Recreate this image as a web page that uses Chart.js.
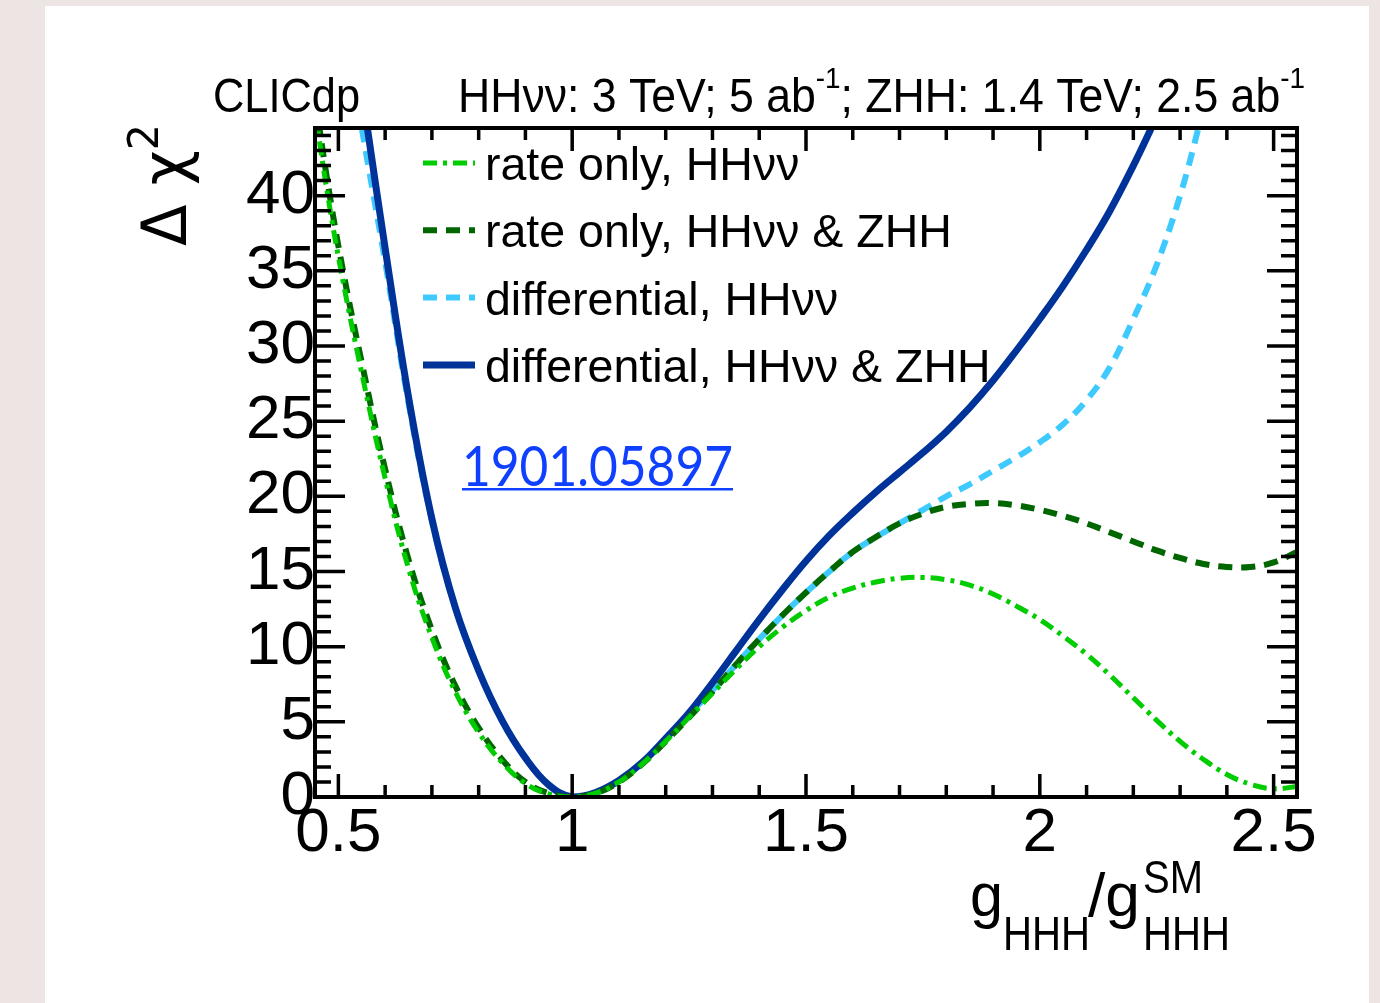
<!DOCTYPE html>
<html>
<head>
<meta charset="utf-8">
<script src="https://cdn.jsdelivr.net/npm/chart.js@4/dist/chart.umd.min.js"></script>
<style>
    html, body { margin: 0; padding: 0; }
    body { width: 1380px; height: 1003px; background: #ece5e3; position: relative; overflow: hidden; }
    #card { position: absolute; left: 45px; top: 6px; width: 1324px; height: 1010px; background: #fff; }
    #wrap { position: absolute; left: 0; top: 0; width: 1380px; height: 1003px; }
</style>
</head>
<body>
<div id="card"></div>
<div id="wrap"><canvas id="chi2Chart" width="1380" height="1003"></canvas></div>
<script>
// coupling values g_HHH / g_HHH^SM
const xRate = [0.45, 0.48, 0.51, 0.55, 0.60, 0.65, 0.70, 0.75, 0.80, 0.85, 0.90, 0.95, 1.00,
    1.05, 1.10, 1.15, 1.20, 1.25, 1.30, 1.35, 1.40, 1.45, 1.50, 1.55, 1.60, 1.65, 1.70, 1.75,
    1.80, 1.85, 1.90, 1.95, 2.00, 2.05, 2.10, 2.15, 2.20, 2.25, 2.30, 2.35, 2.40, 2.45, 2.50, 2.55];
// delta chi2, rate only, HHvv
const chi2RateHHvv = [45.6, 39.5, 34.3, 28.2, 21.2, 15.2, 10.6, 7.0, 4.3, 2.3, 0.9, 0.2, 0.0,
    0.25, 1.0, 2.2, 3.7, 5.3, 6.9, 8.5, 10.0, 11.3, 12.4, 13.3, 13.9, 14.3, 14.55, 14.6,
    14.45, 14.1, 13.5, 12.7, 11.8, 10.7, 9.5, 8.1, 6.6, 5.1, 3.7, 2.5, 1.5, 0.85, 0.55, 0.7];
// delta chi2, rate only, HHvv & ZHH
const chi2RateBoth = [46.5, 40.3, 35.0, 28.9, 21.8, 15.8, 11.1, 7.4, 4.6, 2.5, 1.0, 0.25, 0.0,
    0.25, 1.0, 2.2, 3.7, 5.3, 7.0, 8.8, 10.5, 12.1, 13.6, 15.0, 16.3, 17.3, 18.2, 18.85,
    19.3, 19.5, 19.55, 19.4, 19.1, 18.7, 18.2, 17.6, 17.0, 16.4, 15.9, 15.5, 15.3, 15.3, 15.6, 16.3];

const xDiffHHvv = [0.543, 0.55, 0.60, 0.65, 0.70, 0.75, 0.80, 0.85, 0.90, 0.95, 1.00, 1.05, 1.10,
    1.15, 1.20, 1.25, 1.30, 1.35, 1.40, 1.45, 1.50, 1.55, 1.60, 1.65, 1.70, 1.75, 1.80, 1.85,
    1.90, 1.95, 2.00, 2.05, 2.10, 2.15, 2.20, 2.25, 2.30, 2.34, 2.35];
const chi2DiffHHvv = [46.0, 44.5, 35.6, 26.2, 18.4, 12.6, 8.4, 5.1, 2.6, 0.8, 0.0, 0.3, 1.1,
    2.3, 3.9, 5.5, 7.1, 8.8, 10.5, 12.1, 13.6, 15.0, 16.3, 17.3, 18.2, 19.1, 20.0, 20.8,
    21.7, 22.6, 23.6, 24.8, 26.4, 28.6, 31.8, 35.4, 40.0, 44.6, 46.0];

const xDiffBoth = [0.555, 0.562, 0.60, 0.65, 0.70, 0.75, 0.80, 0.85, 0.90, 0.95, 1.00, 1.05, 1.10,
    1.15, 1.20, 1.25, 1.30, 1.35, 1.40, 1.45, 1.50, 1.55, 1.60, 1.65, 1.70, 1.75, 1.80, 1.85,
    1.90, 1.95, 2.00, 2.05, 2.10, 2.15, 2.20, 2.24, 2.26];
const chi2DiffBoth = [46.0, 44.5, 36.5, 26.6, 18.5, 12.6, 8.4, 5.1, 2.6, 0.8, 0.0, 0.3, 1.1,
    2.3, 3.9, 5.6, 7.6, 9.7, 11.8, 13.8, 15.7, 17.4, 18.9, 20.3, 21.6, 22.9, 24.3, 25.9,
    27.7, 29.7, 31.8, 34.0, 36.4, 39.0, 42.0, 44.6, 46.0];

const seriesLabels = ['rate only, HHνν', 'rate only, HHνν & ZHH', 'differential, HHνν', 'differential, HHνν & ZHH'];

const xRange = [0.45, 2.55];
const yRange = [0, 44.5];

function toPoints(xs, ys) {
    return xs.map((v, i) => ({ x: v, y: ys[i] }));
}

const FONT = '"Liberation Sans", Arial, sans-serif';

// draws a row of text pieces [text, size, dy], optionally squeezed to a given width
function drawRuns(ctx, x, y, parts, width, family) {
    const fam = family || FONT;
    let w = 0;
    parts.forEach(p => {
        ctx.font = p[1] + 'px ' + fam;
        w += ctx.measureText(p[0]).width;
    });
    const sx = width ? width / w : 1;
    ctx.save();
    ctx.translate(x, y);
    ctx.scale(sx, 1);
    let cx = 0;
    parts.forEach(p => {
        ctx.font = p[1] + 'px ' + fam;
        ctx.fillText(p[0], cx, p[2]);
        cx += ctx.measureText(p[0]).width;
    });
    ctx.restore();
}

// frame with inward ticks on all four sides
const frameTicks = {
    id: 'frameTicks',
    afterDatasetsDraw(chart) {
        const { ctx, chartArea: a, scales: { x, y } } = chart;
        ctx.save();
        ctx.strokeStyle = '#000';
        ctx.lineWidth = 3.5;
        ctx.beginPath();
        for (let i = 5; i <= 25; i++) {
            const px = x.getPixelForValue(i / 10);
            const len = i % 5 === 0 ? 23 : 12;
            ctx.moveTo(px, a.bottom); ctx.lineTo(px, a.bottom - len);
            ctx.moveTo(px, a.top); ctx.lineTo(px, a.top + len);
        }
        for (let j = 0; j <= 44; j++) {
            const py = y.getPixelForValue(j);
            const len = j % 5 === 0 ? 30 : 16;
            ctx.moveTo(a.left, py); ctx.lineTo(a.left + len, py);
            ctx.moveTo(a.right, py); ctx.lineTo(a.right - len, py);
        }
        ctx.stroke();
        ctx.lineWidth = 4;
        ctx.strokeRect(a.left, a.top, a.right - a.left, a.bottom - a.top);
        ctx.restore();
    }
};

// legend, header, axis titles and the arXiv number
const labelsPlugin = {
    id: 'labelsPlugin',
    afterDraw(chart) {
        const ctx = chart.ctx;
        const ds = chart.data.datasets;
        ctx.save();
        ctx.fillStyle = '#000';
        ctx.textAlign = 'left';
        ctx.textBaseline = 'alphabetic';

        // legend in the order of seriesLabels
        const order = [0, 1, 3, 2];
        seriesLabels.forEach((label, i) => {
            const d = ds[order[i]];
            const mid = 163 + i * 67.3;
            ctx.save();
            ctx.strokeStyle = d.borderColor;
            ctx.lineWidth = d.borderWidth;
            ctx.setLineDash(d.borderDash || []);
            ctx.beginPath();
            ctx.moveTo(423, mid);
            ctx.lineTo(475, mid);
            ctx.stroke();
            ctx.restore();
            drawRuns(ctx, 485, mid + 17, [[label, 46.5, 0]]);
        });

        // header
        drawRuns(ctx, 213, 112, [['CLICdp', 48, 0]], 147);
        drawRuns(ctx, 458, 112, [
            ['HHνν: 3 TeV; 5 ab', 48, 0], ['-1', 30, -24],
            ['; ZHH: 1.4 TeV; 2.5 ab', 48, 0], ['-1', 30, -24]
        ], 847);

        // y title
        ctx.save();
        ctx.translate(186, 246);
        ctx.rotate(-Math.PI / 2);
        drawRuns(ctx, 0, 0, [['Δ ', 62, 0], ['χ', 62, 0], ['2', 42, -28]], 122, '"DejaVu Sans", sans-serif');
        ctx.restore();

        // x title
        drawRuns(ctx, 970, 916, [['g', 62, 0]], 33);
        drawRuns(ctx, 1003, 950, [['HHH', 48, 0]], 87);
        drawRuns(ctx, 1088, 916, [['/g', 62, 0]], 52);
        drawRuns(ctx, 1143, 893, [['SM', 46, 0]], 60);
        drawRuns(ctx, 1143, 950, [['HHH', 48, 0]], 87);

        // arXiv reference
        ctx.fillStyle = '#1040ff';
        drawRuns(ctx, 462, 486, [['1901.05897', 56, 0]], 271, 'Lato, sans-serif');
        ctx.fillRect(462, 488, 271, 2.5);
        ctx.restore();
    }
};

const data = {
    datasets: [{
        label: seriesLabels[0],
        data: toPoints(xRate, chi2RateHHvv),
        borderColor: '#00cc00',
        borderWidth: 5,
        borderDash: [14, 6, 4, 6]
    }, {
        label: seriesLabels[1],
        data: toPoints(xRate, chi2RateBoth),
        borderColor: '#006600',
        borderWidth: 6,
        borderDash: [14, 9]
    }, {
        label: seriesLabels[3],
        data: toPoints(xDiffBoth, chi2DiffBoth),
        borderColor: '#003399',
        borderWidth: 7
    }, {
        label: seriesLabels[2],
        data: toPoints(xDiffHHvv, chi2DiffHHvv),
        borderColor: '#3fcaff',
        borderWidth: 6,
        borderDash: [14, 9]
    }]
};

const config = {
    type: 'scatter',
    data: data,
    options: {
        responsive: false,
        animation: false,
        layout: { padding: { left: 0, top: 128, right: 83, bottom: 0 } },
        elements: {
            point: { radius: 0 },
            line: { tension: 0.4, fill: false }
        },
        datasets: { scatter: { showLine: true } },
        plugins: { legend: { display: false }, tooltip: { enabled: false } },
        scales: {
            x: {
                type: 'linear',
                min: xRange[0],
                max: xRange[1],
                afterFit: s => { s.height = 206; },
                grid: { display: false, drawTicks: false },
                border: { display: false },
                ticks: {
                    stepSize: 0.5,
                    includeBounds: false,
                    padding: 0,
                    color: '#000',
                    font: { family: FONT, size: 62 },
                    maxRotation: 0,
                    callback: v => String(+v.toFixed(1))
                }
            },
            y: {
                min: yRange[0],
                max: yRange[1],
                afterFit: s => { s.width = 315; },
                grid: { display: false, drawTicks: false },
                border: { display: false },
                ticks: {
                    stepSize: 5,
                    includeBounds: false,
                    padding: 0,
                    color: '#000',
                    font: { family: FONT, size: 62 }
                }
            }
        }
    },
    plugins: [frameTicks, labelsPlugin]
};

new Chart(document.getElementById('chi2Chart').getContext('2d'), config);
</script>
</body>
</html>
